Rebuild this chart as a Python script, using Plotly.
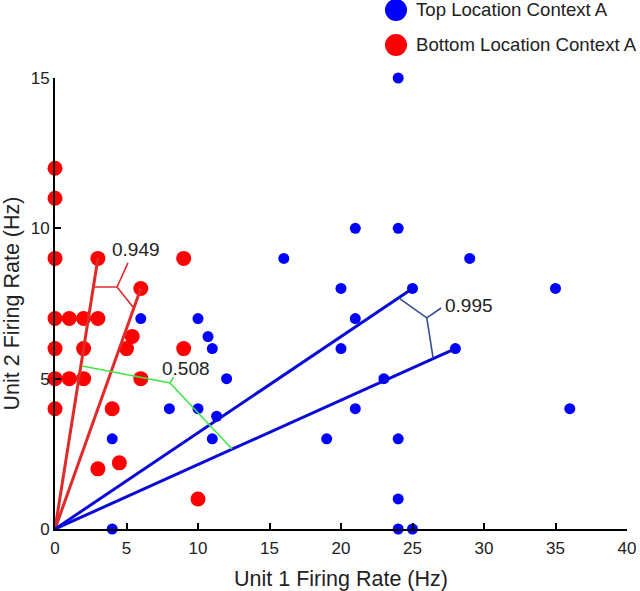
import plotly.graph_objects as go

# ---- data ----
blue_x = [4, 4, 6, 8, 10, 10, 10.7, 11, 11.3, 11, 12, 16, 19, 20, 20, 21, 21, 21, 23,
          24, 24, 24, 24, 24, 25, 25, 28, 29, 35, 36]
blue_y = [0, 3, 7, 4, 7, 4, 6.4, 6, 3.75, 3, 5, 9, 3, 8, 6, 10, 7, 4, 5,
          15, 10, 3, 1, 0, 8, 0, 6, 9, 8, 4]

red_x = [0, 0, 0, 0, 0, 0, 0, 1, 2, 3, 2, 5, 5.4, 9, 1, 2, 6, 4, 3, 4.5, 10, 3, 6, 9]
red_y = [12, 11, 9, 7, 6, 5, 4, 7, 7, 7, 6, 6, 6.4, 6, 5, 5, 5, 4, 2, 2.2, 1, 9, 8, 9]

red_vec_x = [3, 6]
red_vec_y = [9, 8]
blue_vec_x = [25, 28]
blue_vec_y = [8, 6]

# angle brackets: [start on vector 1, vertex, end on vector 2], tick from vertex
red_br_x = [2.68, 4.34, 5.45]
red_br_y = [8.05, 8.05, 7.38]
red_tick = ([4.34, 5.1], [8.05, 8.85])
green_br_x = [1.89, 8.04, 12.38]
green_br_y = [5.42, 4.86, 2.66]
green_tick = ([8.04, 8.3], [4.86, 5.05])
blue_br_x = [24.06, 26.0, 26.43]
blue_br_y = [7.68, 7.02, 5.72]
blue_tick = ([26.0, 27.0], [7.02, 7.35])

labels = ["0.949", "0.508", "0.995"]
label_x = [3.85, 7.34, 27.1]
label_y = [9.28, 5.35, 7.45]

legend_names = ["Top Location Context A", "Bottom Location Context A"]
legend_colors = ["#0000ff", "#ff0000"]

FONT = "Arial, Liberation Sans, sans-serif"
RED = "#ff0000"
BLUE = "#0000ff"
RED_LINE = "#e02a2a"
BLUE_LINE = "#0a0ad8"
TXT = "#222222"

fig = go.Figure()

fig.add_trace(go.Scatter(x=blue_x, y=blue_y, mode="markers",
                         marker=dict(color=BLUE, size=11, line=dict(width=0)),
                         cliponaxis=False, showlegend=False))
fig.add_trace(go.Scatter(x=red_x, y=red_y, mode="markers",
                         marker=dict(color=RED, size=15, line=dict(width=0)),
                         cliponaxis=False, showlegend=False))

for vx, vy, col in [(red_vec_x, red_vec_y, RED_LINE), (blue_vec_x, blue_vec_y, BLUE_LINE)]:
    for x1, y1 in zip(vx, vy):
        fig.add_trace(go.Scatter(x=[0, x1], y=[0, y1], mode="lines",
                                 line=dict(color=col, width=3),
                                 cliponaxis=False, showlegend=False))

for bx, by, tk, col in [(red_br_x, red_br_y, red_tick, RED_LINE),
                        (green_br_x, green_br_y, green_tick, "#44e444"),
                        (blue_br_x, blue_br_y, blue_tick, "#34508f")]:
    fig.add_trace(go.Scatter(x=bx, y=by, mode="lines", line=dict(color=col, width=1.6),
                             showlegend=False, cliponaxis=False))
    fig.add_trace(go.Scatter(x=tk[0], y=tk[1], mode="lines", line=dict(color=col, width=1.6),
                             showlegend=False, cliponaxis=False))

for t, x, y in zip(labels, label_x, label_y):
    fig.add_annotation(x=x, y=y, text=t, showarrow=False, xanchor="left", yanchor="middle",
                       font=dict(family=FONT, size=19, color=TXT))

W, H = 640, 591
ml, mr, mt, mb = 55, 13, 78, 62
pw, ph = W - ml - mr, H - mt - mb
def px(xp):
    return (xp - ml) / pw
def py(yp):
    return (H - mb - yp) / ph
for i, (name, col) in enumerate(zip(legend_names, legend_colors)):
    cy = 10 + 35 * i
    fig.add_shape(type="circle", xref="paper", yref="paper",
                  x0=px(396 - 11), x1=px(396 + 11), y0=py(cy + 11), y1=py(cy - 11),
                  fillcolor=col, line=dict(width=0))
    fig.add_annotation(xref="paper", yref="paper", x=px(414), y=py(cy), text=name,
                       showarrow=False, xanchor="left", yanchor="middle",
                       font=dict(family=FONT, size=18.6, color=TXT))

axis_common = dict(showgrid=False, zeroline=False, showline=True, linecolor="black",
                   linewidth=2, ticks="inside", ticklen=6, tickwidth=2, tickcolor="black",
                   tickfont=dict(family=FONT, size=17, color=TXT),
                   mirror=False, automargin=False)

fig.update_xaxes(range=[0, 40], tickvals=[0, 5, 10, 15, 20, 25, 30, 35, 40],
                 ticklabelstandoff=3,
                 title=dict(text="Unit 1 Firing Rate (Hz)", standoff=19,
                            font=dict(family=FONT, size=21.5, color=TXT)),
                 **axis_common)
fig.update_yaxes(range=[0, 15], tickvals=[0, 5, 10, 15],
                 title=dict(text="Unit 2 Firing Rate (Hz)", standoff=16,
                            font=dict(family=FONT, size=21.5, color=TXT)),
                 **axis_common)

fig.update_layout(width=W, height=H, margin=dict(l=ml, r=mr, t=mt, b=mb, autoexpand=False),
                  plot_bgcolor="white", paper_bgcolor="white", showlegend=False)

fig.write_html("out.html", config={"displayModeBar": False},
               post_script="document.body.style.margin='0px';document.body.style.overflow='hidden';")
